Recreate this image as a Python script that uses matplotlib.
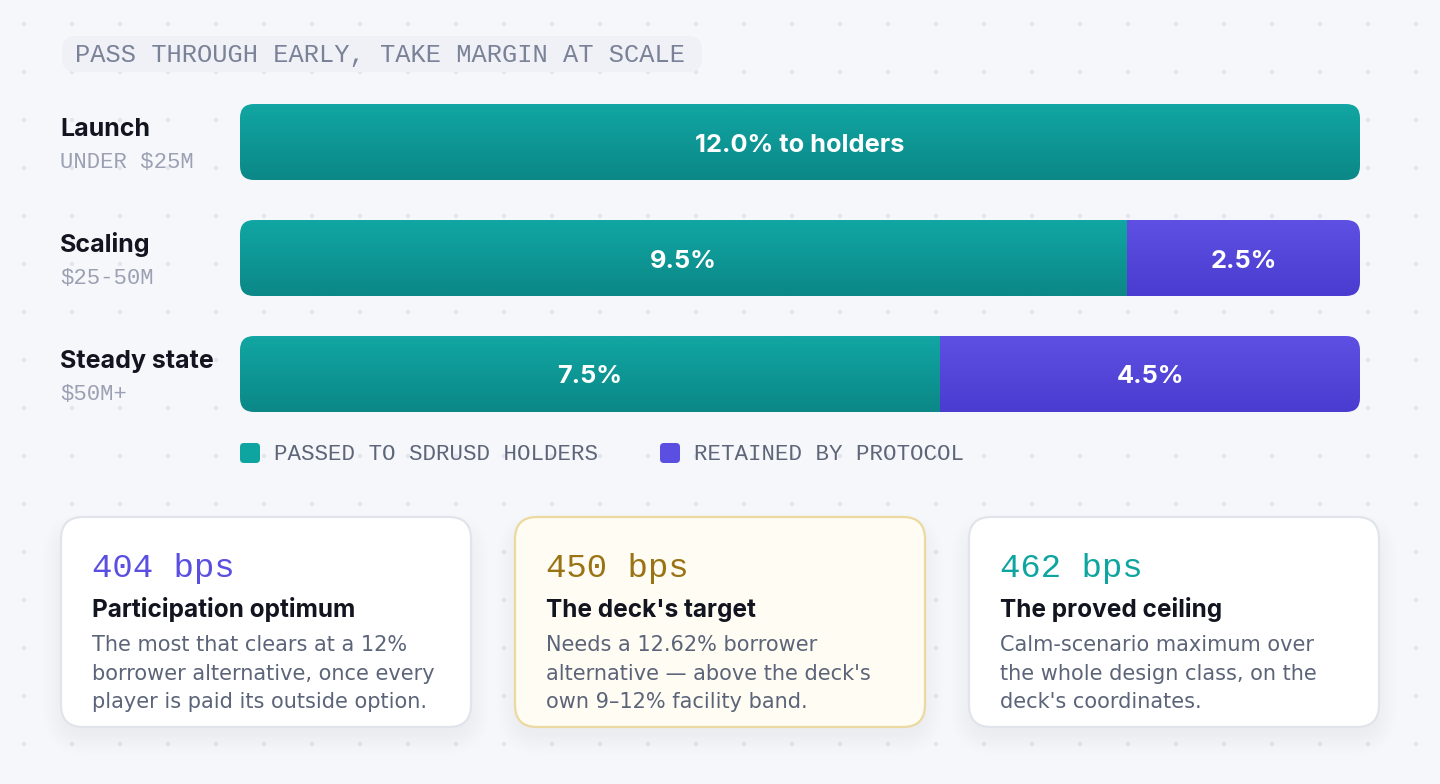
import numpy as np
import matplotlib
matplotlib.use("Agg")
import matplotlib.pyplot as plt
from matplotlib.patches import FancyBboxPatch
from matplotlib.colors import to_rgb

# ---------------- data ----------------
title = "PASS THROUGH EARLY, TAKE MARGIN AT SCALE"
tiers = ["Launch", "Scaling", "Steady state"]
tier_ranges = ["UNDER $25M", "$25-50M", "$50M+"]
passed = [12.0, 9.5, 7.5]
retained = [0.0, 2.5, 4.5]
passed_labels = ["12.0% to holders", "9.5%", "7.5%"]
retained_labels = ["", "2.5%", "4.5%"]
legend_labels = ["PASSED TO SDRUSD HOLDERS", "RETAINED BY PROTOCOL"]

card_values = ["404 bps", "450 bps", "462 bps"]
card_titles = ["Participation optimum", "The deck's target", "The proved ceiling"]
card_bodies = [
    ["The most that clears at a 12%", "borrower alternative, once every", "player is paid its outside option."],
    ["Needs a 12.62% borrower", "alternative \u2014 above the deck's", "own 9\u201312% facility band."],
    ["Calm-scenario maximum over", "the whole design class, on the", "deck's coordinates."],
]

# ---------------- style ----------------
W, H = 1440, 784
BG = "#f6f7fb"
TEAL_TOP, TEAL_BOT = "#11a6a3", "#0b8887"
PURP_TOP, PURP_BOT = "#5d50e2", "#4a3cd0"
TEAL, PURP = "#0ea5a0", "#5a4fe0"
MONO = ["Liberation Mono", "DejaVu Sans Mono"]
HEAD = ["Inter", "DejaVu Sans"]
BODY = ["DejaVu Sans"]

fig = plt.figure(figsize=(W / 100, H / 100), dpi=100)
fig.patch.set_facecolor(BG)

bg = fig.add_axes([0, 0, 1, 1])
bg.set_xlim(0, W)
bg.set_ylim(H, 0)
bg.axis("off")
bg.set_zorder(0)

# dot grid
gx, gy = np.meshgrid(np.arange(24, W, 48), np.arange(24, H, 48))
bg.scatter(gx.ravel(), gy.ravel(), marker="s", s=8, color="#e4e6ee", linewidths=0, zorder=0)

# title pill
bg.add_patch(FancyBboxPatch((62, 36), 640, 36, boxstyle="round,pad=0,rounding_size=14",
                            facecolor="#f0f1f7", edgecolor="none", zorder=1))
bg.text(75, 62, title, family=MONO, fontsize=18.3, color="#7a8298", va="baseline", zorder=2)

# ---------------- bars ----------------
bar_left_px, bar_right_px = 240, 1360
top_px, bot_px = 84, 432
bax = fig.add_axes([bar_left_px / W, 1 - bot_px / H, (bar_right_px - bar_left_px) / W, (bot_px - top_px) / H])
bax.set_zorder(2)
bax.patch.set_alpha(0)
bax.axis("off")
xmax = 12.0
bax.set_xlim(0, xmax)
bax.set_ylim(len(tiers) - 0.5, -0.5)

px_per_x = (bar_right_px - bar_left_px) / xmax
px_per_y = (bot_px - top_px) / len(tiers)
bar_h = 76 / px_per_y
r_x = 14 / px_per_x
asp = px_per_x / px_per_y


def grad(c1, c2, n=64):
    a, b = np.array(to_rgb(c1)), np.array(to_rgb(c2))
    t = np.linspace(0, 1, n)[:, None]
    return (a * (1 - t) + b * t)[:, None, :]


g_teal = grad(TEAL_TOP, TEAL_BOT)
g_purp = grad(PURP_TOP, PURP_BOT)

for i, (p, r) in enumerate(zip(passed, retained)):
    total = p + r
    clip = FancyBboxPatch((0, i - bar_h / 2), total, bar_h,
                          boxstyle=f"round,pad=0,rounding_size={r_x}",
                          mutation_aspect=asp, facecolor="none", edgecolor="none",
                          transform=bax.transData)
    bax.add_patch(clip)
    for left, width, g in [(0, p, g_teal), (p, r, g_purp)]:
        if width <= 0:
            continue
        im = bax.imshow(g, extent=(left, left + width, i + bar_h / 2, i - bar_h / 2),
                        origin="upper", aspect="auto", interpolation="bilinear", zorder=1)
        im.set_clip_path(clip)
    bax.text(p / 2, i + 9.5 / px_per_y, passed_labels[i], ha="center", va="baseline",
             family=HEAD, fontweight="bold", fontsize=18.3, color="white", zorder=3)
    if r > 0:
        bax.text(p + r / 2, i + 9.5 / px_per_y, retained_labels[i], ha="center", va="baseline",
                 family=HEAD, fontweight="bold", fontsize=18.3, color="white", zorder=3)

bax.set_xlim(0, xmax)
bax.set_ylim(len(tiers) - 0.5, -0.5)

# row labels
for i, (t, rng) in enumerate(zip(tiers, tier_ranges)):
    cy = top_px + px_per_y * (i + 0.5)
    bg.text(60, cy - 6, t, family=HEAD, fontweight="bold", fontsize=18, color="#12151f",
            va="baseline", zorder=3)
    bg.text(60, cy + 26, rng, family=MONO, fontsize=16, color="#9ba1b2", va="baseline", zorder=3)

# legend
for (lx, col, lab) in [(240, TEAL, legend_labels[0]), (660, PURP, legend_labels[1])]:
    bg.add_patch(FancyBboxPatch((lx, 443), 20, 20, boxstyle="round,pad=0,rounding_size=4",
                                facecolor=col, edgecolor="none", zorder=3))
    bg.text(lx + 34, 460, lab, family=MONO, fontsize=16.2, color="#5d6578", va="baseline", zorder=3)

# ---------------- cards ----------------
card_x = [61, 515, 969]
card_y, card_w, card_h = 517, 410, 210
card_fc = ["white", "#fffcf3", "white"]
card_ec = ["#e2e4ec", "#ecd9a0", "#e2e4ec"]
val_col = [PURP, "#9a7414", TEAL]

for k in range(3):
    x0 = card_x[k]
    # soft shadow
    for j in range(10):
        e = 2 + j * 2.2
        bg.add_patch(FancyBboxPatch((x0 - e + 4, card_y + 12 - e + 6), card_w + 2 * e - 8, card_h + 2 * e - 12,
                                    boxstyle=f"round,pad=0,rounding_size={22 + e}",
                                    facecolor="#1a2040", edgecolor="none", alpha=0.005, zorder=2))
    bg.add_patch(FancyBboxPatch((x0, card_y), card_w, card_h, boxstyle="round,pad=0,rounding_size=22",
                                facecolor=card_fc[k], edgecolor=card_ec[k], linewidth=1.6, zorder=3))
    tx = x0 + 31
    bg.text(tx, 577, card_values[k], family=MONO, fontsize=24.5, color=val_col[k], va="baseline", zorder=4)
    bg.text(tx, 617, card_titles[k], family=HEAD, fontweight="bold", fontsize=17.6, color="#12151f",
            va="baseline", zorder=4)
    for j, line in enumerate(card_bodies[k]):
        bg.text(tx, 651 + 28.5 * j, line, family=BODY, fontsize=15, color="#5b6478", va="baseline", zorder=4)

fig.savefig("out.png", dpi=100, facecolor=BG)
